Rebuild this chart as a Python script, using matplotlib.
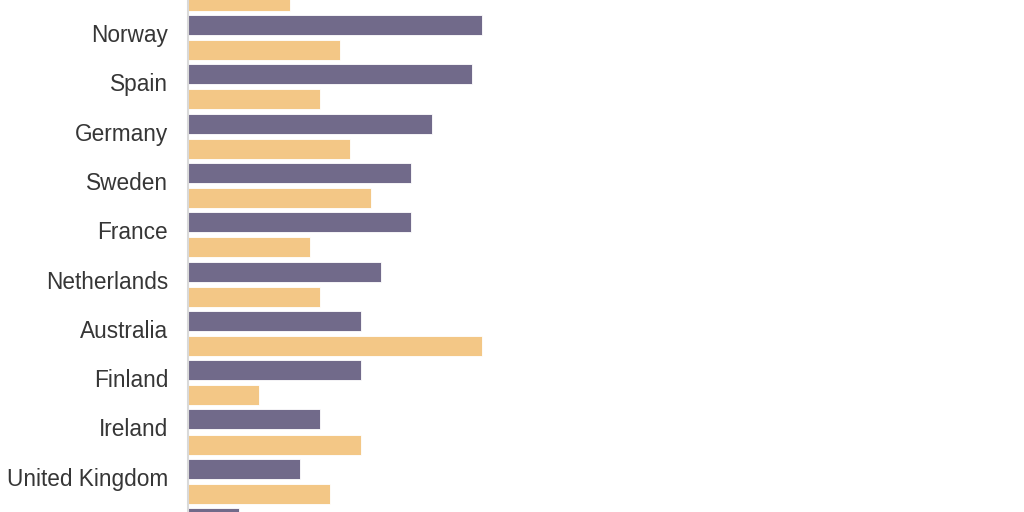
import numpy as np
import matplotlib
matplotlib.use("Agg")
import matplotlib.pyplot as plt

# ---- data (first/last groups are cut off by the frame) ----
countries = ["", "Norway", "Spain", "Germany", "Sweden", "France", "Netherlands",
             "Australia", "Finland", "Ireland", "United Kingdom", ""]
purple_values = [np.nan, 29, 28, 24, 22, 22, 19, 17, 17, 13, 11, 5]
orange_values = [10, 15, 13, 16, 18, 12, 13, 29, 7, 17, 14, np.nan]

PURPLE = "#716a8a"
ORANGE = "#f3c786"

W, H = 1024, 512
fig = plt.figure(figsize=(W / 100, H / 100), dpi=100)
left_px = 188
ax = fig.add_axes([left_px / W, 0, 1 - left_px / W, 1])

pos = np.arange(len(countries))
off = 0.255
h = 0.405
ax.barh(pos - off, purple_values, height=h, color=PURPLE, edgecolor="white", linewidth=0.6)
ax.barh(pos + off, orange_values, height=h, color=ORANGE, edgecolor="white", linewidth=0.6)

scale = 10.15   # px per unit
pitch = 49.3    # px per group
first_center = 37.6
ax.set_xlim(0, (W - left_px) / scale)
ax.set_ylim(1 + (H - first_center) / pitch, 1 - first_center / pitch)

for s in ["top", "right", "bottom"]:
    ax.spines[s].set_visible(False)
ax.spines["left"].set_color("#d9d9d9")
ax.spines["left"].set_linewidth(1.5)
ax.set_xticks([])
ax.set_yticks([])

trans = ax.get_yaxis_transform()
for p, name in zip(pos, countries):
    if name:
        ax.text(-20 / (W - left_px), p + 0.091, name, transform=trans,
                ha="right", va="baseline", fontsize=16.3, color="#363636",
                family=["Liberation Sans", "DejaVu Sans"], clip_on=False)

fig.savefig("out.png", dpi=100)
